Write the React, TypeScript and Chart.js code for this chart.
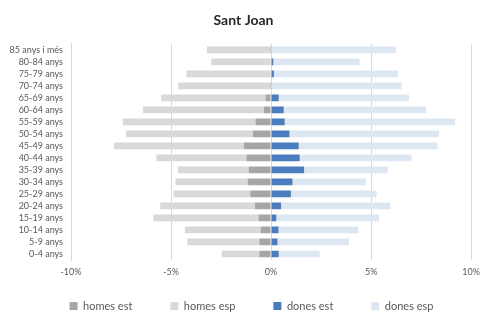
import React, { useEffect, useRef } from "react";
import { Chart, registerables } from "chart.js";

Chart.register(...registerables);

// Age groups, bottom (0-4) to top (85+)
const ageGroups = [
  "0-4 anys", "5-9 anys", "10-14 anys", "15-19 anys", "20-24 anys",
  "25-29 anys", "30-34 anys", "35-39 anys", "40-44 anys", "45-49 anys",
  "50-54 anys", "55-59 anys", "60-64 anys", "65-69 anys", "70-74 anys",
  "75-79 anys", "80-84 anys", "85 anys i més",
];

// Percentages of total population (men shown to the left)
const homesEst = [0.59, 0.59, 0.52, 0.63, 0.8, 1.04, 1.17, 1.12, 1.23, 1.35, 0.91, 0.78, 0.36, 0.28, 0.05, 0.03, 0.03, 0.05];
const homesEsp = [1.88, 3.59, 3.79, 5.25, 4.74, 3.83, 3.61, 3.54, 4.5, 6.5, 6.34, 6.63, 6.04, 5.21, 4.59, 4.2, 2.96, 3.15];
const donesEst = [0.38, 0.32, 0.37, 0.26, 0.5, 0.99, 1.07, 1.65, 1.43, 1.38, 0.92, 0.68, 0.63, 0.38, 0.03, 0.14, 0.11, 0.03];
const donesEsp = [2.05, 3.57, 3.99, 5.14, 5.46, 4.29, 3.66, 4.18, 5.59, 6.93, 7.48, 8.52, 7.12, 6.51, 6.49, 6.2, 4.31, 6.21];

const xTickValues = [-10, -5, 0, 5, 10];

const legendShift = {
  id: "legendShift",
  afterLayout(chart: any) {
    const lg = chart.legend;
    if (!lg) return;
    lg.top -= 18.5;
    lg.left += 8;
    lg.right += 8;
  },
};

export default function App() {
  const canvasRef = useRef<HTMLCanvasElement | null>(null);

  useEffect(() => {
    if (!canvasRef.current) return;
    const textColor = "#595959";
    const chart = new Chart(canvasRef.current, {
      type: "bar",
      data: {
        labels: ageGroups,
        datasets: [
          { label: "homes est", data: homesEst.map((v) => -v), backgroundColor: "#a6a6a6" },
          { label: "homes esp", data: homesEsp.map((v) => -v), backgroundColor: "#d9d9d9" },
          { label: "dones est", data: donesEst, backgroundColor: "#4a7cc0" },
          { label: "dones esp", data: donesEsp, backgroundColor: "#dde7f4" },
        ],
      },
      options: {
        indexAxis: "y",
        responsive: false,
        animation: false,
        devicePixelRatio: 1,
        layout: { padding: 0 },
        datasets: {
          bar: { barPercentage: 1, categoryPercentage: 0.56 },
        },
        scales: {
          x: {
            stacked: true,
            min: -10,
            max: 10,
            afterBuildTicks: (scale: any) => {
              scale.ticks = xTickValues.map((v) => ({ value: v }));
            },
            afterFit: (scale: any) => {
              scale.height = 21;
            },
            ticks: {
              callback: (v: any) => `${v}%`,
              color: textColor,
              font: { size: 9, family: "Lato" },
              padding: 7,
            },
            grid: { color: "#d9d9d9", drawTicks: false },
            border: { display: false },
          },
          y: {
            stacked: true,
            reverse: true,
            afterFit: (scale: any) => {
              scale.width = 71;
            },
            ticks: {
              color: textColor,
              font: { size: 9, family: "Lato" },
              padding: 8,
              autoSkip: false,
            },
            grid: { display: false, drawTicks: false },
            border: { display: true, color: "#d9d9d9" },
          },
        },
        plugins: {
          title: {
            display: true,
            text: "Sant Joan",
            color: "#262626",
            font: { size: 14, weight: "bold", family: "Lato" },
            padding: { top: 12, bottom: 15 },
          },
          legend: {
            position: "bottom",
            maxHeight: 32,
            labels: {
              boxWidth: 8,
              boxHeight: 8,
              padding: 38,
              color: textColor,
              font: { size: 11, family: "Lato" },
            },
          },
          tooltip: { enabled: false },
        },
      },
      plugins: [legendShift],
    });
    return () => chart.destroy();
  }, []);

  return (
    <div style={{ position: "fixed", left: 0, top: 0, width: 487, height: 313, background: "#ffffff" }}>
      <canvas ref={canvasRef} width={487} height={313} style={{ display: "block" }} />
    </div>
  );
}
